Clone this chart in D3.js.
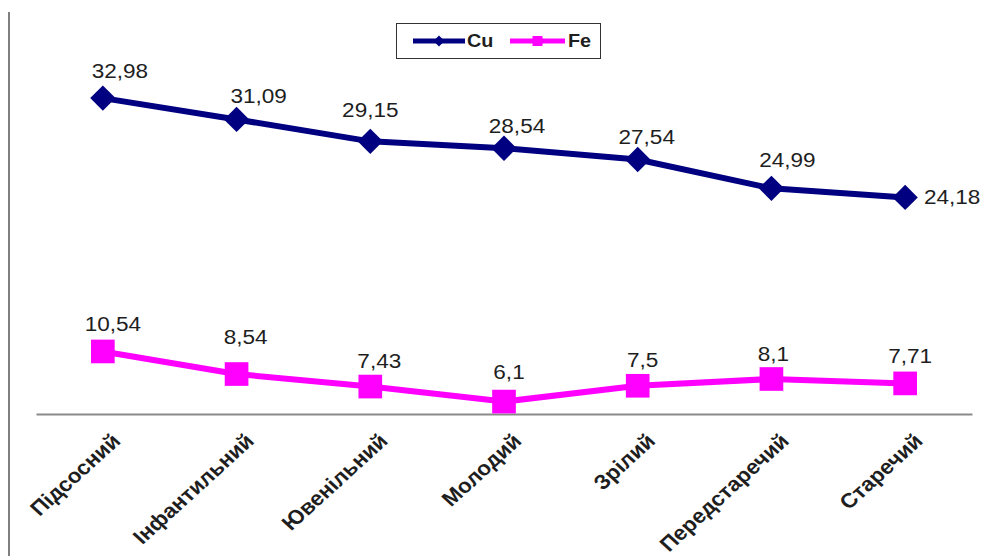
<!DOCTYPE html>
<html>
<head>
<meta charset="utf-8">
<script src="https://cdn.jsdelivr.net/npm/d3@7"></script>
<style>
  html, body { margin: 0; padding: 0; background: #fff; }
  svg { display: block; }
  text { font-family: Arial, "Liberation Sans", sans-serif; fill: #1e1e1e; }
</style>
</head>
<body>
<svg id="chart" width="982" height="556"></svg>
<script>
// Age groups along the x axis
const categories = ["Підсосний", "Інфантильний", "Ювенільний", "Молодий", "Зрілий", "Передстаречий", "Старечий"];
// Series values
const cuValues = [32.98, 31.09, 29.15, 28.54, 27.54, 24.99, 24.18];
const feValues = [10.54, 8.54, 7.43, 6.1, 7.5, 8.1, 7.71];
const seriesNames = ["Cu", "Fe"];

// Value-label nudges (centre offset from the marker, px)
const cuLabelNudge = [[17, -27], [22, -23], [0, -31], [13, -22], [9, -22], [16, -28], [47, 0]];
const feLabelNudge = [[10, -27], [9, -37], [9, -25], [5, -29], [5, -25], [2, -25], [5, -27]];

const fmt = v => String(v).replace(".", ",");
const svg = d3.select("#chart");

const x = d3.scalePoint().domain(categories).range([36, 972]).padding(0.5);
const y = d3.scaleLinear().domain([5, 40]).range([414, 414 - 35 * 11.29]);

// Outer frame line on the left
svg.append("line")
  .attr("x1", 9).attr("x2", 9).attr("y1", 12).attr("y2", 556)
  .attr("stroke", "#555").attr("stroke-width", 1.5);

// Category axis
const axis = svg.append("g")
  .attr("transform", `translate(0,${y(5)})`)
  .call(d3.axisBottom(x).tickSize(0).tickSizeOuter(0));
axis.select(".domain").attr("stroke", "#8a8a8a").attr("stroke-width", 2);
axis.selectAll(".tick text").remove();
axis.selectAll(".tick").append("text")
  .attr("transform", "translate(7,18) scale(1.1,1) rotate(-45)")
  .attr("text-anchor", "end")
  .attr("dy", "0.71em")
  .style("font-size", "20.5px")
  .style("font-weight", "bold")
  .style("fill", "#1e1e1e")
  .text(d => d);

const line = d3.line().x((d, i) => x(categories[i])).y(d => y(d));

// Square diamond (a square turned by 45 degrees)
const diamond = {
  draw(ctx, size) {
    const r = Math.sqrt(size / 2);
    ctx.moveTo(0, -r); ctx.lineTo(r, 0); ctx.lineTo(0, r); ctx.lineTo(-r, 0); ctx.closePath();
  }
};

const series = [
  { name: seriesNames[0], values: cuValues, nudge: cuLabelNudge, color: "#000080", marker: diamond, size: 320 },
  { name: seriesNames[1], values: feValues, nudge: feLabelNudge, color: "#ff00ff", marker: d3.symbolSquare, size: 560 }
];

series.forEach(s => {
  const g = svg.append("g");
  g.append("path")
    .attr("d", line(s.values))
    .attr("fill", "none")
    .attr("stroke", s.color)
    .attr("stroke-width", 6)
    .attr("stroke-linejoin", "round");
  g.selectAll("path.mk").data(s.values).join("path")
    .attr("class", "mk")
    .attr("d", d3.symbol().type(s.marker).size(s.size))
    .attr("transform", (d, i) => `translate(${x(categories[i])},${y(d)})`)
    .attr("fill", s.color);
  g.selectAll("text").data(s.values).join("text")
    .attr("transform", (d, i) => `translate(${x(categories[i]) + s.nudge[i][0]},${y(d) + s.nudge[i][1]}) scale(1.1,1)`)
    .attr("text-anchor", "middle")
    .attr("dominant-baseline", "central")
    .style("font-size", "20.5px")
    .text(d => fmt(d));
});

// Legend
const legend = svg.append("g");
legend.append("rect")
  .attr("x", 396.5).attr("y", 23.5).attr("width", 204).attr("height", 35)
  .attr("fill", "#fff").attr("stroke", "#333").attr("stroke-width", 1);
const legendItems = [
  { s: series[0], x0: 413, x1: 465, tx: 467, msize: 60 },
  { s: series[1], x0: 510, x1: 565, tx: 568, msize: 100 }
];
legendItems.forEach(it => {
  legend.append("line")
    .attr("x1", it.x0).attr("x2", it.x1).attr("y1", 41).attr("y2", 41)
    .attr("stroke", it.s.color).attr("stroke-width", 5);
  legend.append("path")
    .attr("d", d3.symbol().type(it.s.marker).size(it.msize))
    .attr("transform", `translate(${(it.x0 + it.x1) / 2},41)`)
    .attr("fill", it.s.color);
  legend.append("text")
    .attr("transform", `translate(${it.tx},41) scale(1.1,1)`)
    .attr("dominant-baseline", "central")
    .style("font-size", "18px")
    .style("font-weight", "bold")
    .text(it.s.name);
});
</script>
</body>
</html>
